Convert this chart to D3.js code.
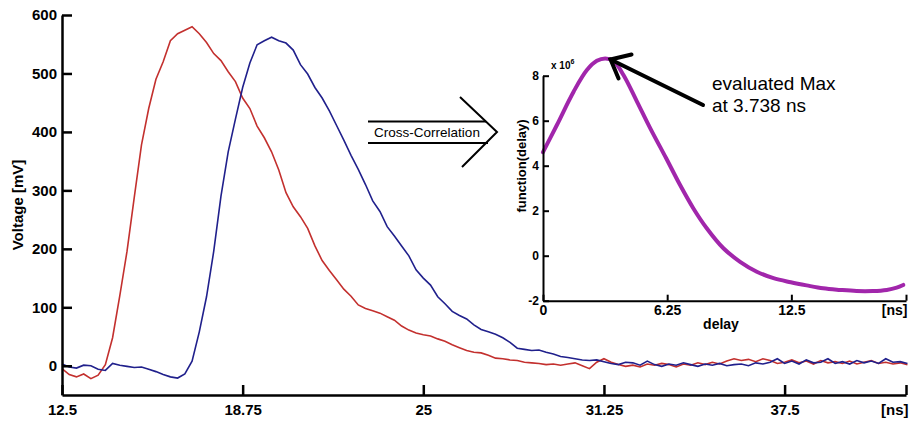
<!DOCTYPE html>
<html>
<head>
<meta charset="utf-8">
<script src="https://cdn.jsdelivr.net/npm/d3@7"></script>
<style>
  body { margin: 0; background: #fff; }
  svg { display: block; font-family: "Liberation Sans", Arial, sans-serif; }
  .axis path, .axis line { stroke: #000; }
  .axis text { fill: #000; font-weight: bold; }
</style>
</head>
<body>
<svg width="909" height="421"></svg>
<script>
// oscilloscope traces, sampled every 0.25 ns starting at 12.5 ns (values in mV)
var tStart = 12.5, tStep = 0.25;
var redMv = [
  -5, -15, -19, -14,      // 12.5
  -22, -16, 2, 48,        // 13.5
  120, 196, 288, 378,     // 14.5
  440, 490, 520, 556,     // 15.5
  568, 574, 580, 568,     // 16.5
  553, 534, 522, 503,     // 17.5
  486, 458, 440, 410,     // 18.5
  390, 366, 335, 296,     // 19.5
  272, 255, 235, 205,     // 20.5
  180, 163, 147, 131,     // 21.5
  119, 104, 98, 94,       // 22.5
  90, 84, 78, 68,         // 23.5
  61, 56, 53, 51,         // 24.5
  46, 42, 36, 31,         // 25.5
  26, 23, 22, 18,         // 26.5
  13, 12, 10, 9,          // 27.5
  6, 5, 4, 2,             // 28.5
  3, 1, 3, 5,             // 29.5
  0, -5, 6, 12,           // 30.5
  6, 2, -1, 1,            // 31.5
  -2, 3, 1, 4,            // 32.5
  2, -2, 3, 1,            // 33.5
  5, 2, 6, 3,             // 34.5
  8, 12, 9, 11,           // 35.5
  7, 12, 9, 4,            // 36.5
  6, 10, 5, 8,            // 37.5
  3, 9, 5, 7,             // 38.5
  4, 8, 3, 6,             // 39.5
  9, 4, 6, 3,             // 40.5
  5, 2                    // 41.5
];
var blueMv = [
  3, -2, -4, 1,           // 12.5
  0, -6, -8, 4,           // 13.5
  1, -1, -3, -2,          // 14.5
  -6, -10, -15, -19,      // 15.5
  -21, -14, 8, 58,        // 16.5
  118, 196, 290, 366,     // 17.5
  422, 476, 518, 549,     // 18.5
  556, 562, 556, 552,     // 19.5
  540, 515, 499, 476,     // 20.5
  458, 436, 411, 386,     // 21.5
  360, 336, 310, 282,     // 22.5
  264, 238, 222, 205,     // 23.5
  188, 164, 150, 138,     // 24.5
  118, 106, 93, 86,       // 25.5
  80, 70, 62, 58,         // 26.5
  54, 48, 40, 30,         // 27.5
  28, 26, 27, 23,         // 28.5
  20, 16, 14, 12,         // 29.5
  10, 9, 10, 7,           // 30.5
  4, 2, 6, 5,             // 31.5
  1, 8, 2, -1,            // 32.5
  3, 1, 5, 2,             // 33.5
  -1, 3, 1, 4,            // 34.5
  0, 2, 3, 0,             // 35.5
  5, 3, 6, 12,            // 36.5
  4, 8, 3, 10,            // 37.5
  5, 6, 12, 4,            // 38.5
  7, 3, 9, 5,             // 39.5
  8, 4, 12, 6,            // 40.5
  7, 4                    // 41.5
];
var mainXTicks = [12.5, 18.75, 25, 31.25, 37.5, 41.7];
var mainYTicks = [0, 100, 200, 300, 400, 500, 600];

// cross-correlation result: [delay ns, value x 1e6]
var corr = [
  [0, 4.6], [0.7, 5.81], [1.54, 7.29], [2.21, 8.25], [2.71, 8.66], [3.13, 8.77],
  [3.55, 8.66], [4.05, 8.03], [4.73, 6.85], [5.4, 5.66], [6.2, 4.33], [6.9, 3.14],
  [7.57, 2.1], [8.24, 1.22], [9.08, 0.33], [9.92, -0.27], [10.76, -0.71], [11.6, -1.0],
  [12.47, -1.18], [13.27, -1.32], [14.1, -1.45], [14.95, -1.52], [15.78, -1.57],
  [16.6, -1.57], [17.3, -1.52], [17.8, -1.42], [18.13, -1.3]
];
var insetXTicks = [0, 6.25, 12.5, 18.27];
var insetYTicks = [-2, 0, 2, 4, 6, 8];
var peak = [3.4, 8.72];

var svg = d3.select("svg");

// ---- main chart ----
var x = d3.scaleLinear().domain([12.5, 41.7]).range([62, 906]);
var y = d3.scaleLinear().domain([-50, 600]).range([395, 15]);

function toPts(vals) {
  return vals.map(function(v, i) { return [tStart + i * tStep, v]; });
}
var line = d3.line()
    .x(function(d) { return x(d[0]); })
    .y(function(d) { return y(d[1]); });

svg.append("path").datum(toPts(redMv))
    .attr("d", line).attr("fill", "none")
    .attr("stroke", "#c3302e").attr("stroke-width", 1.6);
svg.append("path").datum(toPts(blueMv))
    .attr("d", line).attr("fill", "none")
    .attr("stroke", "#20208c").attr("stroke-width", 1.6);

var yAx = svg.append("g").attr("class", "axis")
    .attr("transform", "translate(62,0)")
    .call(d3.axisLeft(y).tickValues(mainYTicks).tickSize(-10).tickSizeOuter(0).tickPadding(5));
yAx.selectAll("path, line").attr("stroke-width", 2.5);
yAx.selectAll("text").style("font-size", "15px");

var xAx = svg.append("g").attr("class", "axis")
    .attr("transform", "translate(0,395)")
    .call(d3.axisBottom(x).tickValues(mainXTicks).tickSize(-10).tickSizeOuter(0).tickPadding(9)
      .tickFormat(function(d) { return d === 41.7 ? "[ns]" : String(d); }));
xAx.selectAll("path, line").attr("stroke-width", 2.5);
xAx.selectAll("text").style("font-size", "15px");
xAx.selectAll("text").filter(function(d) { return d === 41.7; })
    .attr("text-anchor", "end").attr("dx", 2);

svg.append("text")
    .attr("transform", "translate(23,205) rotate(-90)")
    .attr("text-anchor", "middle")
    .style("font-size", "15px").style("font-weight", "bold")
    .text("Voltage [mV]");

// ---- cross-correlation arrow ----
var arrow = svg.append("g").attr("stroke", "#000").attr("stroke-width", 2).attr("fill", "none");
arrow.append("line").attr("x1", 368).attr("y1", 121.5).attr("x2", 486).attr("y2", 121.5);
arrow.append("line").attr("x1", 368).attr("y1", 143).attr("x2", 488).attr("y2", 143);
arrow.append("polyline").attr("points", "460,97 497,132 462,167");
svg.append("text").attr("x", 427).attr("y", 137)
    .attr("text-anchor", "middle").style("font-size", "13.5px")
    .text("Cross-Correlation");

// ---- inset ----
var xi = d3.scaleLinear().domain([0, 18.27]).range([543, 906]);
var yi = d3.scaleLinear().domain([-2, 8]).range([300.7, 75.7]);

svg.append("path").datum(corr)
    .attr("d", d3.line().curve(d3.curveCatmullRom)
      .x(function(d) { return xi(d[0]); })
      .y(function(d) { return yi(d[1]); }))
    .attr("fill", "none").attr("stroke", "#a126ab")
    .attr("stroke-width", 4).attr("stroke-linecap", "round");

var yiAx = svg.append("g").attr("class", "axis")
    .attr("transform", "translate(543,0)")
    .call(d3.axisLeft(yi).tickValues(insetYTicks).tickSize(-6).tickSizeOuter(0).tickPadding(4)
      .tickFormat(function(d) { return String(d); }));
yiAx.selectAll("path, line").attr("stroke-width", 2);
yiAx.selectAll("text").style("font-size", "12px");

var xiAx = svg.append("g").attr("class", "axis")
    .attr("transform", "translate(0,300.7)")
    .call(d3.axisBottom(xi).tickValues(insetXTicks).tickSize(-6).tickSizeOuter(0).tickPadding(4)
      .tickFormat(function(d) { return d === 18.27 ? "[ns]" : String(d); }));
xiAx.selectAll("path, line").attr("stroke-width", 2);
xiAx.selectAll("text").style("font-size", "14px");
xiAx.selectAll("text").filter(function(d) { return d === 18.27; })
    .attr("text-anchor", "end").attr("dx", 1);

var expo = svg.append("text").attr("x", 551).attr("y", 69)
    .style("font-size", "10px").style("font-weight", "bold");
expo.append("tspan").text("x 10");
expo.append("tspan").attr("dy", -5).style("font-size", "7px").text("6");

svg.append("text")
    .attr("transform", "translate(526,166) rotate(-90)")
    .attr("text-anchor", "middle")
    .style("font-size", "13px").style("font-weight", "bold")
    .text("function(delay)");

svg.append("text").attr("x", 721).attr("y", 329)
    .attr("text-anchor", "middle")
    .style("font-size", "14px").style("font-weight", "bold")
    .text("delay");

// ---- max annotation ----
var tipX = xi(peak[0]), tipY = yi(peak[1]);
var ann = svg.append("g").attr("stroke", "#000").attr("stroke-width", 4)
    .attr("stroke-linecap", "round").attr("fill", "none");
ann.append("line").attr("x1", 703).attr("y1", 105).attr("x2", tipX).attr("y2", tipY);
ann.append("polyline")
    .attr("points", (tipX + 21) + "," + (tipY - 5) + " " + tipX + "," + tipY + " " + (tipX + 8) + "," + (tipY + 19));

svg.append("text").attr("x", 712).attr("y", 90)
    .style("font-size", "19px").text("evaluated Max");
svg.append("text").attr("x", 712).attr("y", 112)
    .style("font-size", "19px").text("at 3.738 ns");
</script>
</body>
</html>
